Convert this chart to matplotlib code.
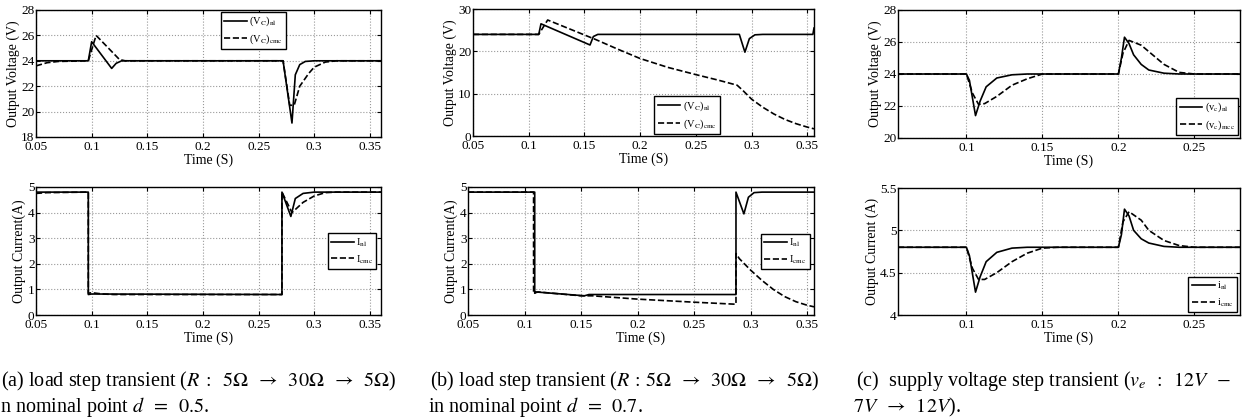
import matplotlib
matplotlib.use("Agg")
import matplotlib.pyplot as plt

plt.rcParams['font.family'] = ['Liberation Serif', 'DejaVu Serif']
plt.rcParams['mathtext.fontset'] = 'stix'

# ---------------- data ----------------
# (a) load step, d = 0.5
a_v_nl_t = [0.05, 0.097, 0.1, 0.118, 0.122, 0.127, 0.272, 0.28, 0.283, 0.287, 0.292, 0.3, 0.36]
a_v_nl = [24, 24, 25.5, 23.4, 23.8, 24, 24, 19.1, 22.9, 23.7, 23.95, 24, 24]
a_v_cmc_t = [0.05, 0.06, 0.07, 0.097, 0.104, 0.125, 0.13, 0.272, 0.278, 0.282, 0.287, 0.295, 0.3, 0.31, 0.32, 0.36]
a_v_cmc = [23.6, 23.85, 23.95, 24, 26.0, 24.1, 24, 24, 20.5, 20.5, 22.0, 23.0, 23.5, 23.9, 24, 24]
a_i_nl_t = [0.05, 0.097, 0.097, 0.1, 0.271, 0.271, 0.279, 0.283, 0.29, 0.3, 0.36]
a_i_nl = [4.8, 4.8, 0.8, 0.82, 0.8, 4.8, 3.85, 4.55, 4.75, 4.8, 4.8]
a_i_cmc_t = [0.05, 0.06, 0.097, 0.097, 0.1, 0.11, 0.12, 0.271, 0.271, 0.28, 0.29, 0.3, 0.31, 0.32, 0.36]
a_i_cmc = [4.75, 4.78, 4.8, 0.85, 0.87, 0.82, 0.8, 0.8, 4.8, 4.0, 4.4, 4.65, 4.78, 4.8, 4.8]

# (b) load step, d = 0.7
b_v_nl_t = [0.05, 0.109, 0.111, 0.155, 0.158, 0.162, 0.289, 0.294, 0.298, 0.303, 0.31, 0.355, 0.356]
b_v_nl = [24, 24, 26.5, 21.5, 23.5, 24, 24, 19.8, 23.0, 23.9, 24, 24, 25.5]
b_v_cmc_t = [0.05, 0.109, 0.117, 0.16, 0.18, 0.2, 0.225, 0.25, 0.27, 0.287, 0.292, 0.3, 0.31, 0.32, 0.33, 0.34, 0.35, 0.356]
b_v_cmc = [24, 24, 27.4, 22.8, 20.5, 18.3, 16.2, 14.5, 13.2, 12.0, 10.8, 8.7, 6.8, 5.2, 3.9, 2.9, 2.1, 1.7]
b_i_nl_t = [0.05, 0.109, 0.109, 0.11, 0.153, 0.157, 0.287, 0.287, 0.294, 0.298, 0.303, 0.31, 0.356]
b_i_nl = [4.8, 4.8, 0.85, 0.9, 0.75, 0.8, 0.8, 4.8, 3.95, 4.6, 4.78, 4.8, 4.8]
b_i_cmc_t = [0.05, 0.108, 0.108, 0.112, 0.15, 0.16, 0.2, 0.25, 0.287, 0.287, 0.29, 0.3, 0.31, 0.32, 0.33, 0.34, 0.35, 0.356]
b_i_cmc = [4.8, 4.8, 0.85, 0.9, 0.75, 0.75, 0.62, 0.5, 0.42, 2.4, 2.2, 1.75, 1.35, 1.0, 0.72, 0.52, 0.38, 0.32]

# (c) supply voltage step
c_v_nl_t = [0.055, 0.1, 0.102, 0.106, 0.109, 0.113, 0.12, 0.13, 0.14, 0.2, 0.202, 0.204, 0.207, 0.21, 0.215, 0.22, 0.23, 0.24, 0.28]
c_v_nl = [24, 24, 23.6, 21.4, 22.3, 23.2, 23.75, 23.95, 24, 24, 25.0, 26.3, 25.9, 25.2, 24.6, 24.25, 24.05, 24, 24]
c_v_cmc_t = [0.055, 0.1, 0.104, 0.108, 0.112, 0.12, 0.13, 0.14, 0.15, 0.2, 0.203, 0.207, 0.215, 0.22, 0.23, 0.24, 0.25, 0.28]
c_v_cmc = [24, 24, 22.8, 22.1, 22.15, 22.6, 23.3, 23.7, 24, 24, 25.3, 26.1, 25.8, 25.4, 24.6, 24.1, 24, 24]
c_i_nl_t = [0.055, 0.1, 0.102, 0.106, 0.109, 0.113, 0.12, 0.13, 0.14, 0.2, 0.202, 0.204, 0.207, 0.21, 0.215, 0.22, 0.23, 0.24, 0.28]
c_i_nl = [4.8, 4.8, 4.7, 4.27, 4.45, 4.63, 4.74, 4.79, 4.8, 4.8, 4.95, 5.25, 5.17, 5.0, 4.9, 4.85, 4.81, 4.8, 4.8]
c_i_cmc_t = [0.055, 0.1, 0.104, 0.108, 0.112, 0.12, 0.13, 0.14, 0.15, 0.16, 0.2, 0.203, 0.207, 0.215, 0.22, 0.23, 0.24, 0.25, 0.28]
c_i_cmc = [4.8, 4.8, 4.55, 4.42, 4.42, 4.5, 4.63, 4.73, 4.79, 4.8, 4.8, 5.1, 5.22, 5.12, 5.0, 4.88, 4.82, 4.8, 4.8]

ab_xticks = [0.05, 0.1, 0.15, 0.2, 0.25, 0.3, 0.35]
ab_xticklabels = ['0.05', '0.1', '0.15', '0.2', '0.25', '0.3', '0.35']
c_xticks = [0.1, 0.15, 0.2, 0.25]
c_xticklabels = ['0.1', '0.15', '0.2', '0.25']

captions = [
    (r"(a) load step transient ($R\;:\;\;5\Omega\;\;\rightarrow\;\;30\Omega\;\;\rightarrow\;\;5\Omega$)",
     r"n nominal point $d\;\;=\;\;0.5$."),
    (r"(b) load step transient ($R\,:\,5\Omega\;\;\rightarrow\;\;30\Omega\;\;\rightarrow\;\;5\Omega$)",
     r"in nominal point $d\;\;=\;\;0.7$."),
    (r"(c)  supply voltage step transient ($v_e\;\;:\;\;12V\;\;-$",
     r"$7V\;\;\rightarrow\;\;12V$)."),
]

# ---------------- figure ----------------
W, H = 1252, 419
fig = plt.figure(figsize=(W / 100, H / 100), dpi=100)

def add_ax(l, t, r, b):
    return fig.add_axes([l / W, 1 - b / H, (r - l) / W, (b - t) / H])

TICK_FS = 9.5
LAB_FS = 10
LEG_FS = 7.5
LW = 1.2

def style(ax, xlim, ylim, yticks, yticklabels, xticks, xticklabels, ylabel):
    ax.set_xlim(*xlim)
    ax.set_ylim(*ylim)
    ax.set_xticks(xticks)
    ax.set_xticklabels(xticklabels, fontsize=TICK_FS)
    ax.set_yticks(yticks)
    ax.set_yticklabels(yticklabels, fontsize=TICK_FS)
    ax.grid(True, linestyle=':', color='#999999', linewidth=0.8)
    ax.tick_params(direction='in', length=3, width=0.8, top=True, right=True)
    ax.tick_params(axis='x', pad=3)
    ax.tick_params(axis='y', pad=1)
    for s in ax.spines.values():
        s.set_linewidth(1.0)
    ax.set_xlabel('Time (S)', fontsize=LAB_FS, labelpad=0)
    ax.set_ylabel(ylabel, fontsize=LAB_FS, labelpad=1)

def leg(ax, labels, l, t, r, b):
    lg = ax.legend(labels, loc='center', fontsize=LEG_FS,
                   bbox_to_anchor=((l) / W, 1 - b / H, (r - l) / W, (b - t) / H),
                   bbox_transform=fig.transFigure, frameon=True, fancybox=False,
                   edgecolor='black', framealpha=1, handlelength=2.2,
                   handletextpad=0.2, borderpad=0.3, labelspacing=0.4)
    lg.get_frame().set_linewidth(1.0)

# (a) top
ax = add_ax(36, 10, 381, 137)
ax.plot(a_v_nl_t, a_v_nl, 'k-', lw=LW)
ax.plot(a_v_cmc_t, a_v_cmc, 'k--', lw=LW)
style(ax, (0.05, 0.36), (18, 28), [18, 20, 22, 24, 26, 28], ['18', '20', '22', '24', '26', '28'],
      ab_xticks, ab_xticklabels, 'Output Voltage (V)')
leg(ax, [r'(V$_{\rm C}$)$_{\rm nl}$', r'(V$_{\rm C}$)$_{\rm cmc}$'], 223, 13, 284, 48)

# (a) bottom
ax = add_ax(36, 187, 381, 315)
ax.plot(a_i_nl_t, a_i_nl, 'k-', lw=LW)
ax.plot(a_i_cmc_t, a_i_cmc, 'k--', lw=LW)
style(ax, (0.05, 0.36), (0, 5), [0, 1, 2, 3, 4, 5], ['0', '1', '2', '3', '4', '5'],
      ab_xticks, ab_xticklabels, 'Output Current(A)')
leg(ax, [r'I$_{\rm nl}$', r'I$_{\rm cmc}$'], 329, 233, 375, 269)

# (b) top
ax = add_ax(473, 9, 814, 136)
ax.plot(b_v_nl_t, b_v_nl, 'k-', lw=LW)
ax.plot(b_v_cmc_t, b_v_cmc, 'k--', lw=LW)
style(ax, (0.05, 0.356), (0, 30), [0, 10, 20, 30], ['0', '10', '20', '30'],
      ab_xticks, ab_xticklabels, 'Output Voltage (V)')
leg(ax, [r'(V$_{\rm C}$)$_{\rm nl}$', r'(V$_{\rm C}$)$_{\rm cmc}$'], 656, 97, 718, 133)

# (b) bottom
ax = add_ax(468, 187, 814, 315)
ax.plot(b_i_nl_t, b_i_nl, 'k-', lw=LW)
ax.plot(b_i_cmc_t, b_i_cmc, 'k--', lw=LW)
style(ax, (0.05, 0.356), (0, 5), [0, 1, 2, 3, 4, 5], ['0', '1', '2', '3', '4', '5'],
      ab_xticks, ab_xticklabels, 'Output Current(A)')
leg(ax, [r'I$_{\rm nl}$', r'I$_{\rm cmc}$'], 763, 233, 808, 270)

# (c) top
ax = add_ax(898, 10, 1240, 138)
ax.plot(c_v_nl_t, c_v_nl, 'k-', lw=LW)
ax.plot(c_v_cmc_t, c_v_cmc, 'k--', lw=LW)
style(ax, (0.055, 0.28), (20, 28), [20, 22, 24, 26, 28], ['20', '22', '24', '26', '28'],
      c_xticks, c_xticklabels, 'Output Voltage (V)')
leg(ax, [r'(v$_{\rm c}$)$_{\rm nl}$', r'(v$_{\rm c}$)$_{\rm mcc}$'], 1178, 98, 1236, 135)

# (c) bottom
ax = add_ax(898, 188, 1240, 315)
ax.plot(c_i_nl_t, c_i_nl, 'k-', lw=LW)
ax.plot(c_i_cmc_t, c_i_cmc, 'k--', lw=LW)
style(ax, (0.055, 0.28), (4, 5.5), [4, 4.5, 5, 5.5], ['4', '4.5', '5', '5.5'],
      c_xticks, c_xticklabels, 'Output Current (A)')
leg(ax, [r'i$_{\rm nl}$', r'i$_{\rm cmc}$'], 1190, 276, 1235, 313)

# captions
CAP_FS = 14.5
cap_x1 = [1, 430, 856]
cap_x2 = [0, 428, 853]
for (l1, l2), x1, x2 in zip(captions, cap_x1, cap_x2):
    fig.text(x1 / W, 1 - 386 / H, l1, fontsize=CAP_FS, ha='left', va='baseline')
    fig.text(x2 / W, 1 - 412 / H, l2, fontsize=CAP_FS, ha='left', va='baseline')

fig.savefig('out.png', dpi=100)
